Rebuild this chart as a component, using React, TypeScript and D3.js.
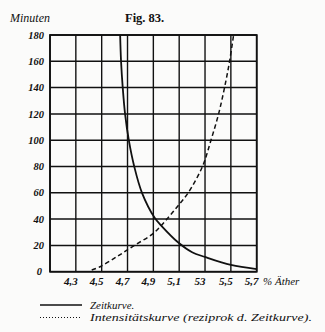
import React from "react";
import * as d3 from "d3";

const xTicks = [4.3, 4.5, 4.7, 4.9, 5.1, 5.3, 5.5, 5.7];
const xTickLabels = ["4,3", "4,5", "4,7", "4,9", "5,1", "53", "5,5", "5,7"];
const yTicks = [0, 20, 40, 60, 80, 100, 120, 140, 160, 180];

const zeitX = [4.643, 4.65, 4.663, 4.681, 4.71, 4.752, 4.812, 4.91, 4.957, 5.1, 5.2, 5.3, 5.5, 5.7];
const zeitY = [180, 160, 140, 120, 100, 80, 60, 41, 35.5, 21.6, 14.8, 11.2, 5.1, 2];

const intX = [4.423, 4.488, 4.617, 4.745, 4.9, 5.005, 5.09, 5.17, 5.28, 5.346, 5.405, 5.451, 5.49, 5.521];
const intY = [1.3, 3.8, 11.4, 19.5, 29.2, 40, 50, 60, 80, 100, 120, 140, 160, 180];

export default function App() {
  const W = 325, H = 332;
  const x = d3.scaleLinear().domain([4.1, 5.7]).range([50, 256.7]);
  const y = d3.scaleLinear().domain([0, 180]).range([271.7, 35]);
  const line = d3
    .line<[number, number]>()
    .x((d) => x(d[0]))
    .y((d) => y(d[1]))
    .curve(d3.curveCatmullRom.alpha(0.5));
  const zeit = line(zeitX.map((v, i) => [v, zeitY[i]] as [number, number])) || "";
  const inten = line(intX.map((v, i) => [v, intY[i]] as [number, number])) || "";
  const vLines = [4.1, ...xTicks];
  const ink = "#111";
  const numFont = "'Liberation Serif', serif";
  return (
    <svg
      width={W}
      height={H}
      style={{ position: "absolute", left: 0, top: 0, display: "block", background: "#fbfbfa" }}
    >
      <rect x={0} y={0} width={W} height={H} fill="#fbfbfa" />
      <text x={10} y={22} fontFamily={numFont} fontStyle="italic" fontSize={12} fill={ink}>
        Minuten
      </text>
      <text x={125} y={22} fontFamily={numFont} fontSize={12.5} fill={ink} fontWeight="bold">
        Fig. 83.
      </text>
      <clipPath id="plot">
        <rect x={x(4.1)} y={y(180)} width={x(5.7) - x(4.1)} height={y(0) - y(180)} />
      </clipPath>
      {vLines.map((v) => (
        <line key={"v" + v} x1={x(v)} x2={x(v)} y1={y(0)} y2={y(180)} stroke={ink} strokeWidth={1.4} />
      ))}
      {yTicks.map((v) => (
        <line key={"h" + v} x1={x(4.1)} x2={x(5.7)} y1={y(v)} y2={y(v)} stroke={ink} strokeWidth={1.5} />
      ))}
      <rect
        x={x(4.1)}
        y={y(180)}
        width={x(5.7) - x(4.1)}
        height={y(0) - y(180)}
        fill="none"
        stroke={ink}
        strokeWidth={1.8}
      />
      <g clipPath="url(#plot)">
        <path d={zeit} fill="none" stroke={ink} strokeWidth={1.8} />
        <path d={inten} fill="none" stroke={ink} strokeWidth={1.5} strokeDasharray="4.5 3" />
      </g>
      {yTicks.map((v) => (
        <text
          key={"yl" + v}
          x={v === 0 ? 42 : 44}
          y={y(v)}
          dy="0.35em"
          textAnchor="end"
          fontFamily={numFont}
          fontStyle="italic"
          fontWeight="bold"
          fontSize={10.5}
          fill={ink}
        >
          {v}
        </text>
      ))}
      {xTicks.map((v, i) => (
        <text
          key={"xl" + v}
          x={x(v) - 5}
          y={285}
          textAnchor="middle"
          fontFamily={numFont}
          fontStyle="italic"
          fontWeight="bold"
          fontSize={11}
          fill={ink}
        >
          {xTickLabels[i]}
        </text>
      ))}
      <text x={263} y={285} fontFamily={numFont} fontStyle="italic" fontSize={11} fill={ink}>
        % Äther
      </text>
      <line x1={40} x2={82} y1={305} y2={305} stroke={ink} strokeWidth={1.5} />
      <text x={90} y={309} fontFamily={numFont} fontStyle="italic" fontSize={11} fill={ink}>
        Zeitkurve.
      </text>
      <line x1={40} x2={82} y1={317.5} y2={317.5} stroke={ink} strokeWidth={1} strokeDasharray="1 2" />
      <text
        x={90}
        y={321}
        fontFamily={numFont}
        fontStyle="italic"
        fontSize={11}
        fill={ink}
        textLength={222}
        lengthAdjust="spacingAndGlyphs"
      >
        Intensitätskurve (reziprok d. Zeitkurve).
      </text>
    </svg>
  );
}
